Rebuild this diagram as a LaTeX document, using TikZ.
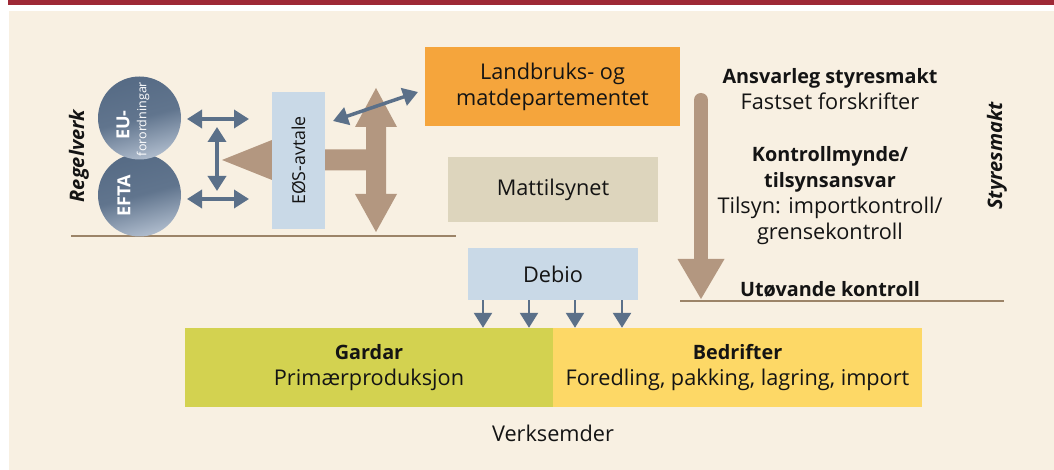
\documentclass[tikz,border=0pt]{standalone}
\usepackage{fontspec}
\setmainfont{Open Sans}
\usetikzlibrary{arrows.meta,shadings}
\definecolor{bgcream}{HTML}{F8F0E2}
\definecolor{topred}{HTML}{9E2936}
\definecolor{orangebox}{HTML}{F5A53C}
\definecolor{mattbox}{HTML}{DDD5BD}
\definecolor{bluebox}{HTML}{C9D9E7}
\definecolor{brownarr}{HTML}{B39780}
\definecolor{bluearr}{HTML}{5B7089}
\definecolor{gardarc}{HTML}{D3D250}
\definecolor{bedc}{HTML}{FDD866}
\definecolor{lineb}{HTML}{9C8468}
\definecolor{circdark}{HTML}{566B85}
\definecolor{circlight}{HTML}{AFBCCD}
\definecolor{textc}{HTML}{141414}
\newcommand\bt[1]{{\fontsize{19.8}{26}\selectfont\bfseries #1}}
\tikzset{
  box/.style={rectangle, inner sep=0pt, align=center, text=textc, font=\fontsize{21.7}{26}\selectfont},
  ball/.style={circle, inner sep=0pt, minimum size=83, top color=circdark, bottom color=circlight, middle color=circdark!88!circlight, shading angle=15},
  txt/.style={inner sep=0pt, align=center, text=textc, font=\fontsize{21.7}{26}\selectfont},
  sidetxt/.style={inner sep=0pt, rotate=90, text=textc, font=\fontsize{20}{22}\selectfont\bfseries\itshape},
  bluedbl/.style={draw=bluearr, line width=3.5pt, {Triangle[length=15pt,width=18pt]}-{Triangle[length=15pt,width=18pt]}},
  smallarr/.style={draw=bluearr, line width=2.5pt, -{Triangle[length=15pt,width=18pt]}},
  baseline/.style={draw=lineb, line width=2pt},
}
\begin{document}
\begin{tikzpicture}[x=1pt,y=-1pt]
\useasboundingbox (0,0) rectangle (1054,470);
\fill[white] (0,0) rectangle (1054,470);
\fill[topred] (8,0) rectangle (1054,5);
\fill[bgcream] (9,11) rectangle (1054,470);

% base lines
\coordinate (rl1) at (71,236);
\coordinate (rl2) at (456,236);
\draw[baseline] (rl1) -- (rl2);
\coordinate (sl1) at (680,300.5);
\coordinate (sl2) at (1004,300.5);
\draw[baseline] (sl1) -- (sl2);

% brown arrows (shapes)
\fill[brownarr] (222,160) -- (272,140) -- (272,149.5) -- (377,149.5) -- (377,170.5) -- (272,170.5) -- (272,180) -- cycle;
\fill[brownarr] (376,88) -- (397,127) -- (386,127) -- (386,194) -- (397,194) -- (376,232) -- (355,194) -- (366,194) -- (366,127) -- (355,127) -- cycle;

% boxes
\node[box, fill=orangebox, minimum width=255, minimum height=79] (lmd) at (552.5,86.5) {Landbruks- og\\matdepartementet};
\node[box, fill=mattbox, minimum width=210, minimum height=65] (mat) at (553,189.5) {Mattilsynet};
\node[box, fill=bluebox, minimum width=53, minimum height=137] (eos) at (298.5,160.5) {};
\node[txt, rotate=90, font=\fontsize{17.8}{22}\selectfont] (eostxt) at (eos.center) {EØS-avtale};
\node[box, fill=bluebox, minimum width=170, minimum height=52] (debio) at (553,274) {Debio};
\node[box, fill=gardarc, minimum width=368, minimum height=79] (gardar) at (369,367.5) {\bt{Gardar}\\Primærproduksjon};
\node[box, fill=bedc, minimum width=369, minimum height=79] (bedr) at (737.5,367.5) {\bt{Bedrifter}\\Foredling, pakking, lagring, import};
\node[txt] (verks) at (553,433) {Verksemder};

% circles
\node[ball] (efta) at (139.5,195) {};
\node[ball] (eu) at (139.5,118) {};
\node[inner sep=0pt, rotate=90, text=white, font=\fontsize{18}{20}\selectfont\bfseries] (eftatxt) at (124,196) {EFTA};
\node[inner sep=0pt, rotate=90, text=white, font=\fontsize{18}{20}\selectfont\bfseries] (eutxt) at (123,125) {EU-};
\node[inner sep=0pt, rotate=90, text=white, font=\fontsize{12.5}{14}\selectfont] (fortxt) at (143,119) {forordningar};

% side labels
\node[sidetxt] (regel) at (79,156) {Regelverk};
\node[sidetxt] (styr) at (997,156) {Styresmakt};

% blue double arrows
\coordinate (b1a) at (187,119); \coordinate (b1b) at (249,119);
\coordinate (b2a) at (187,199); \coordinate (b2b) at (249,199);
\coordinate (b3a) at (217,127); \coordinate (b3b) at (217,191);
\coordinate (b4a) at (333,121); \coordinate (b4b) at (418,92);
\draw[bluedbl] (b1a) -- (b1b);
\draw[bluedbl] (b2a) -- (b2b);
\draw[bluedbl] (b3a) -- (b3b);
\draw[bluedbl] (b4a) -- (b4b);

% Debio arrows
\foreach \x in {483,529,575,622} \draw[smallarr] (debio.south -| \x,0) -- (gardar.north -| \x,0);

% right down arrow
\draw[brownarr, line width=14pt, line cap=round] (701,100) -- (701,262);
\fill[brownarr] (677.5,259) -- (724.5,259) -- (701,299) -- cycle;

% right texts
\node[txt] (ansv) at (830,89.5) {\bt{Ansvarleg styresmakt}\\Fastset forskrifter};
\node[txt] (kontr) at (830,195.5) {\bt{Kontrollmynde/}\\\bt{tilsynsansvar}\\Tilsyn: importkontroll/\\grensekontroll};
\node[txt] (utov) at (830,289) {\bt{Utøvande kontroll}};
\end{tikzpicture}
\end{document}
